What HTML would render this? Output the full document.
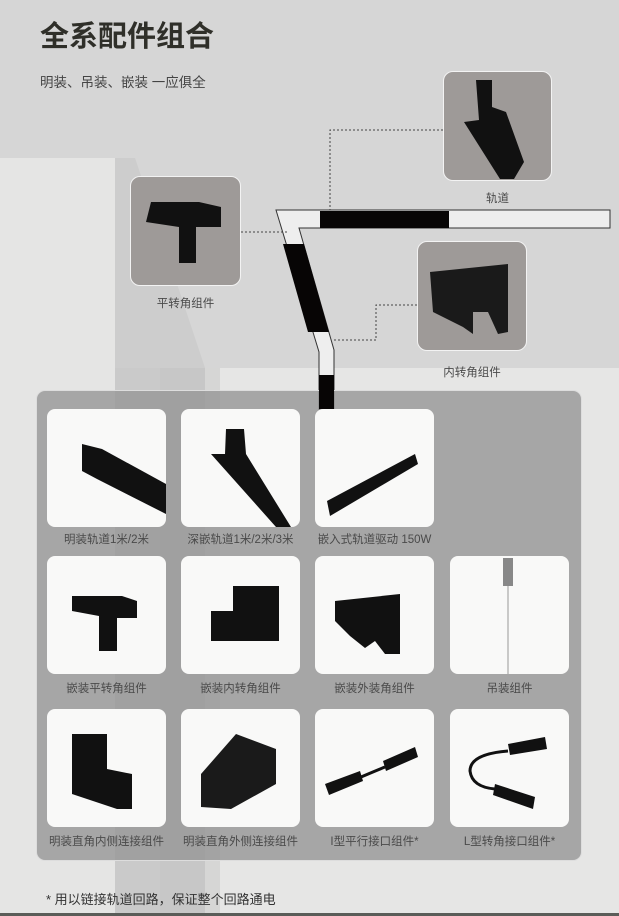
<!DOCTYPE html>
<html><head><meta charset="utf-8"><style>
*{margin:0;padding:0;box-sizing:border-box}
body{width:619px;height:916px;position:relative;overflow:hidden;background:#d6d6d6;font-family:"Liberation Sans","Noto Sans CJK SC",sans-serif}
.a{position:absolute}
.t{position:absolute;font-size:11.5px;color:#4a4a4a;text-align:center;white-space:nowrap}
.card{position:absolute;width:119px;height:118px;background:#f9f9f8;border-radius:8px}
.tc{position:absolute;background:#9e9a98;border:1.5px solid #f3f3f3;border-radius:10px}
</style></head><body>
<div class="a" style="left:0;top:158px;width:115px;height:758px;background:#e5e5e4"></div>
<svg class="a" style="left:0;top:0" width="619" height="916">
<polygon points="115,158 135,158 205,368 205,916 115,916" fill="#cdcdcd"/>
<rect x="205" y="368" width="414" height="548" fill="#e6e6e5"/>
<rect x="115" y="368" width="45" height="548" fill="#c8c8c8" opacity=".6"/>
<rect x="160" y="368" width="60" height="548" fill="#bdbdbd" opacity=".4"/>
<polygon points="276,210 610,210 610,228 299,228 334,350 334,410 319,410 319,352" fill="#eeeeee" stroke="#333" stroke-width="1"/>
<rect x="320" y="211" width="129" height="17" fill="#070505"/>
<polygon points="283,244 304,244 329,332 308,332" fill="#070505"/>
<rect x="319" y="375" width="15" height="35" fill="#070505"/>
<g stroke="#444" stroke-dasharray="2,2" fill="none" stroke-width="1">
<polyline points="443,130 330,130 330,210"/>
<polyline points="241,232 287,232"/>
<polyline points="417,305 376,305 376,340 332,340"/>
</g>
</svg>
<div class="a" style="left:40px;top:19px;font-size:29px;line-height:36px;font-weight:bold;color:#2f2f29">全系配件组合</div>
<div class="a" style="left:40px;top:71px;font-size:13.5px;color:#444">明装、吊装、嵌装 一应俱全</div>

<div class="tc" style="left:443px;top:71px;width:109px;height:110px">
<svg width="106" height="107"><polygon points="32,8 48,8 48,35 62,40 80,90 70,107 56,107 20,50 35,48" fill="#111"/></svg></div>
<div class="t" style="left:443px;top:190px;width:109px">轨道</div>
<div class="tc" style="left:130px;top:176px;width:111px;height:110px">
<svg width="108" height="107"><polygon points="20,25 68,25 90,30 90,50 65,50 65,86 48,86 48,50 15,45" fill="#111"/></svg></div>
<div class="t" style="left:130px;top:295px;width:111px">平转角组件</div>
<div class="tc" style="left:417px;top:241px;width:110px;height:110px">
<svg width="107" height="107"><polygon points="12,30 90,22 90,90 80,92 70,70 55,70 55,92 45,85 15,70" fill="#1a1a1a"/></svg></div>
<div class="t" style="left:417px;top:364px;width:110px">内转角组件</div>

<div class="a" style="left:36px;top:390px;width:546px;height:471px;background:rgba(150,150,150,.8);border:1px solid #ddd;border-radius:9px"></div>
<div class="a" style="left:319px;top:390px;width:15px;height:19px;background:#070505"></div>

<div class="card" style="left:47px;top:409px"><svg width="119" height="118"><polygon points="35,35 55,40 119,75 119,105 50,70 35,62" fill="#111"/></svg></div>
<div class="card" style="left:181px;top:409px"><svg width="119" height="118"><polygon points="45,20 63,20 65,45 110,118 95,118 30,45 44,45" fill="#111"/></svg></div>
<div class="card" style="left:315px;top:409px"><svg width="119" height="118"><polygon points="12,92 100,45 103,55 15,107" fill="#111"/></svg></div>
<div class="t" style="left:47px;top:531px;width:119px">明装轨道1米/2米</div>
<div class="t" style="left:171px;top:531px;width:139px">深嵌轨道1米/2米/3米</div>
<div class="t" style="left:305px;top:531px;width:139px">嵌入式轨道驱动 150W</div>

<div class="card" style="left:47px;top:556px"><svg width="119" height="118"><polygon points="25,40 75,40 90,45 90,62 70,62 70,95 52,95 52,60 25,55" fill="#111"/></svg></div>
<div class="card" style="left:181px;top:556px"><svg width="119" height="118"><polygon points="52,30 98,30 98,85 30,85 30,55 52,55" fill="#111"/></svg></div>
<div class="card" style="left:315px;top:556px"><svg width="119" height="118"><polygon points="20,45 85,38 85,98 70,98 60,85 50,92 35,80 20,65" fill="#111"/></svg></div>
<div class="card" style="left:450px;top:556px"><svg width="119" height="118"><rect x="53" y="2" width="10" height="28" fill="#888"/><line x1="58" y1="30" x2="58" y2="118" stroke="#999"/></svg></div>
<div class="t" style="left:47px;top:680px;width:119px">嵌装平转角组件</div>
<div class="t" style="left:181px;top:680px;width:119px">嵌装内转角组件</div>
<div class="t" style="left:315px;top:680px;width:119px">嵌装外装角组件</div>
<div class="t" style="left:450px;top:680px;width:119px">吊装组件</div>

<div class="card" style="left:47px;top:709px"><svg width="119" height="118"><polygon points="25,25 60,25 60,60 85,65 85,100 70,100 25,85" fill="#111"/></svg></div>
<div class="card" style="left:181px;top:709px"><svg width="119" height="118"><polygon points="20,65 55,25 95,40 95,75 50,100 20,98" fill="#1a1a1a"/></svg></div>
<div class="card" style="left:315px;top:709px"><svg width="119" height="118"><polygon points="10,75 45,62 48,72 14,86" fill="#111"/><polygon points="68,52 100,38 103,48 71,62" fill="#111"/><path d="M46,68 Q60,62 70,58" stroke="#111" stroke-width="3" fill="none"/></svg></div>
<div class="card" style="left:450px;top:709px"><svg width="119" height="118"><polygon points="58,35 95,28 97,40 60,46" fill="#111"/><polygon points="45,75 85,88 83,100 43,86" fill="#111"/><path d="M58,42 Q20,45 20,62 Q22,78 45,80" stroke="#111" stroke-width="3" fill="none"/></svg></div>
<div class="t" style="left:37px;top:833px;width:139px">明装直角内侧连接组件</div>
<div class="t" style="left:171px;top:833px;width:139px">明装直角外侧连接组件</div>
<div class="t" style="left:305px;top:833px;width:139px">I型平行接口组件*</div>
<div class="t" style="left:440px;top:833px;width:139px">L型转角接口组件*</div>

<div class="a" style="left:46px;top:889px;font-size:13px;color:#333">* 用以链接轨道回路，保证整个回路通电</div>
<div class="a" style="left:0;top:913px;width:619px;height:3px;background:#5a5c58"></div>
</body></html>
